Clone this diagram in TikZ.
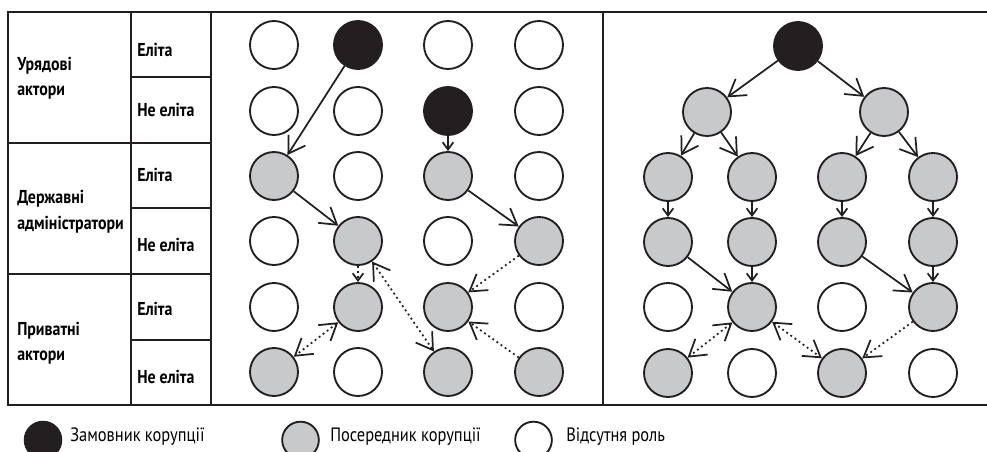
\documentclass[tikz,border=0pt]{standalone}
\usepackage{fontspec}
\setmainfont{PT Sans}
\newfontfamily\cond[FakeStretch=0.85]{PT Sans}
\usetikzlibrary{arrows.meta}
\definecolor{ink}{RGB}{35,31,32}
\definecolor{mid}{RGB}{200,201,203}
\begin{document}
\begin{tikzpicture}[x=0.75pt,y=-0.75pt,
  nd/.style={circle, draw=ink, line width=1.4pt, minimum size=36pt, inner sep=0pt},
  wh/.style={nd, fill=white},
  gr/.style={nd, fill=mid},
  bk/.style={nd, fill=ink},
  lg/.style={circle, draw=ink, line width=1.4pt, minimum size=27.5pt, inner sep=0pt},
  frame/.style={draw=ink, line width=1.5pt},
  big/.tip={Straight Barb[length=12pt,width=15pt]},
  small/.tip={Straight Barb[length=5.5pt,width=8pt]},
  con/.style={draw=ink, line width=1.3pt, -big},
  cons/.style={draw=ink, line width=1.3pt, -small},
  dcon/.style={con, dash pattern=on 1.4pt off 2.4pt},
  dcons/.style={cons, dash pattern=on 1.4pt off 2.4pt},
  dbl/.style={draw=ink, line width=1.3pt, dash pattern=on 1.4pt off 2.4pt, big-big},
  grp/.style={font=\cond\bfseries\fontsize{14}{16}\selectfont, anchor=base west, inner sep=0pt},
  sub/.style={font=\cond\bfseries\fontsize{14}{16}\selectfont, anchor=base west, inner sep=0pt},
  leg/.style={font=\cond\fontsize{14.5}{16}\selectfont, anchor=west, inner sep=0pt}
]
\clip (0,0) rectangle (987,452);
\fill[white] (0,0) rectangle (987,452);
% frame
\draw[frame] (987,12) -- (8,12) -- (8,405) -- (987,405);
\draw[frame] (131,12) -- (131,405);
\draw[frame] (211,12) -- (211,405);
\draw[frame] (603,12) -- (603,405);
\draw[frame] (8,143) -- (211,143);
\draw[frame] (8,274) -- (211,274);
\draw[frame] (131,77.5) -- (211,77.5);
\draw[frame] (131,208.5) -- (211,208.5);
\draw[frame] (131,339.5) -- (211,339.5);
% table labels
\node[grp] (g1a) at (17,71) {Урядові};
\node[grp] (g1b) at (17,96) {актори};
\node[grp] (g2a) at (17,204) {Державні};
\node[grp] (g2b) at (17,229) {адміністратори};
\node[grp] (g3a) at (17,335) {Приватні};
\node[grp] (g3b) at (17,360) {актори};
\node[sub] (s1) at (137,57) {Еліта};
\node[sub] (s2) at (137,117) {Не еліта};
\node[sub] (s3) at (137,182) {Еліта};
\node[sub] (s4) at (137,251) {Не еліта};
\node[sub] (s5) at (137,315) {Еліта};
\node[sub] (s6) at (137,383) {Не еліта};
% middle panel
\node[wh] (m11) at (274,45) {}; \node[bk] (m12) at (358,45) {}; \node[wh] (m13) at (448,45) {}; \node[wh] (m14) at (539,45) {};
\node[wh] (m21) at (274,111) {}; \node[wh] (m22) at (358,111) {}; \node[bk] (m23) at (448,111) {}; \node[wh] (m24) at (539,111) {};
\node[gr] (m31) at (274,176) {}; \node[wh] (m32) at (358,176) {}; \node[gr] (m33) at (448,176) {}; \node[wh] (m34) at (539,176) {};
\node[wh] (m41) at (274,241) {}; \node[gr] (m42) at (358,241) {}; \node[wh] (m43) at (448,241) {}; \node[gr] (m44) at (539,241) {};
\node[wh] (m51) at (274,307) {}; \node[gr] (m52) at (358,307) {}; \node[gr] (m53) at (448,307) {}; \node[wh] (m54) at (539,307) {};
\node[gr] (m61) at (274,372) {}; \node[wh] (m62) at (358,372) {}; \node[gr] (m63) at (448,372) {}; \node[gr] (m64) at (539,372) {};
\draw[con] (m12) -- (m31);
\draw[cons] (m23) -- (m33);
\draw[con] (m31) -- (m42);
\draw[con] (m33) -- (m44);
\draw[dcons] (m42) -- (m52);
\draw[dbl] (m42) -- (m63);
\draw[dcon] (m44) -- (m53);
\draw[dbl] (m52) -- (m61);
\draw[dcon] (m64) -- (m53);
% right panel
\node[bk] (r1) at (798,46) {};
\node[gr] (r2a) at (707,112) {}; \node[gr] (r2b) at (884,112) {};
\node[gr] (r31) at (668,177) {}; \node[gr] (r32) at (752,177) {}; \node[gr] (r33) at (842,177) {}; \node[gr] (r34) at (933,177) {};
\node[gr] (r41) at (668,242) {}; \node[gr] (r42) at (752,242) {}; \node[gr] (r43) at (842,242) {}; \node[gr] (r44) at (933,242) {};
\node[wh] (r51) at (668,307) {}; \node[gr] (r52) at (752,307) {}; \node[wh] (r53) at (842,307) {}; \node[gr] (r54) at (933,307) {};
\node[gr] (r61) at (668,373) {}; \node[wh] (r62) at (752,373) {}; \node[gr] (r63) at (842,373) {}; \node[wh] (r64) at (933,373) {};
\draw[con] (r1) -- (r2a);
\draw[con] (r1) -- (r2b);
\draw[con] (r2a) -- (r31);
\draw[con] (r2a) -- (r32);
\draw[con] (r2b) -- (r33);
\draw[con] (r2b) -- (r34);
\draw[cons] (r31) -- (r41);
\draw[cons] (r32) -- (r42);
\draw[cons] (r33) -- (r43);
\draw[cons] (r34) -- (r44);
\draw[con] (r41) -- (r52);
\draw[cons] (r42) -- (r52);
\draw[con] (r43) -- (r54);
\draw[cons] (r44) -- (r54);
\draw[dbl] (r52) -- (r61);
\draw[dbl] (r52) -- (r63);
\draw[dcon] (r54) -- (r63);
% legend
\node[lg, fill=ink] (l1) at (43,440) {};
\node[leg] (t1) at (70,437) {Замовник корупції};
\node[lg, fill=mid] (l2) at (300.5,440) {};
\node[leg] (t2) at (330,437) {Посередник корупції};
\node[lg, fill=white] (l3) at (533.5,440) {};
\node[leg] (t3) at (566,437) {Відсутня роль};
\end{tikzpicture}
\end{document}
